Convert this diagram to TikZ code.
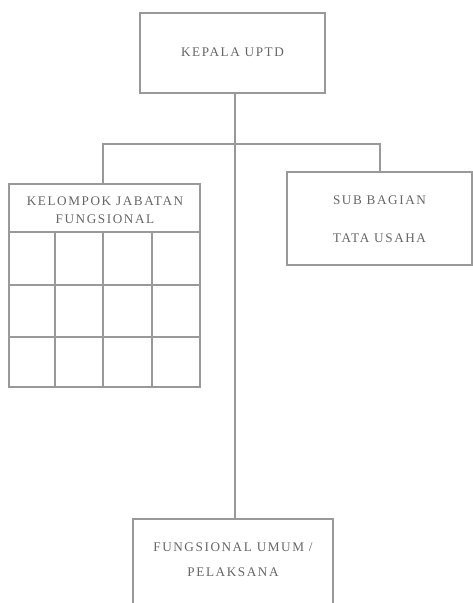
\documentclass[tikz,border=0pt]{standalone}
\usepackage{fontspec}
\setmainfont{Liberation Serif}[LetterSpace=12]
\begin{document}
\begin{tikzpicture}[x=1pt,y=-1pt,
  frame/.style={draw=black!40,line width=1.1pt},
  link/.style={draw=black!40,line width=1.1pt},
  label/.style={text=black!60,font=\fontsize{13.2}{17}\selectfont,inner sep=0pt,align=center}]
\useasboundingbox (0,0) rectangle (473,603);
\clip (0,0) rectangle (473,603);

% head office
\draw[frame] (140,13) rectangle (325,93);
\node[label] (kepala) at (232.5,52) {KEPALA UPTD};
\coordinate (kbot) at (235,93);

% functional group table
\draw[frame] (9,184) rectangle (200,387);
\node[label] (kjf) at (105,210) {KELOMPOK JABATAN\\[1pt]FUNGSIONAL};
\draw[frame] (9,232) -- (200,232);
\draw[frame] (9,285) -- (200,285);
\draw[frame] (9,337) -- (200,337);
\foreach \cx in {55,103,152} \draw[frame] (\cx,232) -- (\cx,387);
\coordinate (kjftop) at (103,184);

% administration sub-section
\draw[frame] (287,172) rectangle (472,265);
\node[label] (sub1) at (379.5,200) {SUB BAGIAN};
\node[label] (sub2) at (379.5,238) {TATA USAHA};
\coordinate (subtop) at (380,172);

% general staff box, running off the bottom edge
\draw[frame] (133,610) -- (133,519) -- (333,519) -- (333,610);
\node[label] (fu1) at (233,547) {FUNGSIONAL UMUM /};
\node[label] (fu2) at (233,572) {PELAKSANA};
\coordinate (futop) at (235,519);

% connectors
\coordinate (bar) at (235,144);
\draw[link] (kbot) -- (futop);
\draw[link] (kjftop) |- (bar) -| (subtop);
\end{tikzpicture}
\end{document}
